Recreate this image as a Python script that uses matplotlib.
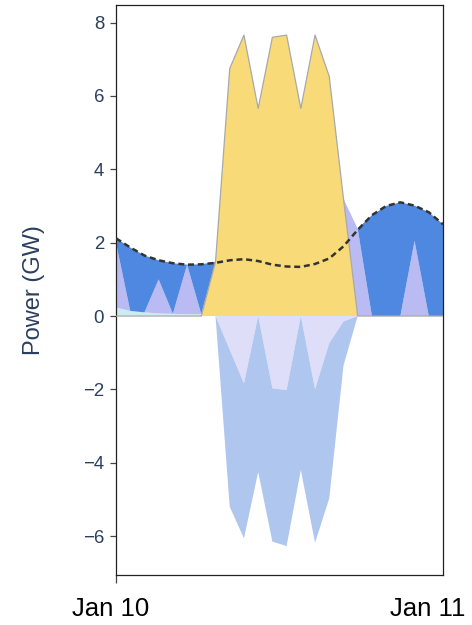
import matplotlib
matplotlib.use("Agg")
import matplotlib.pyplot as plt
from matplotlib.transforms import ScaledTranslation

# ---- data (hourly, Jan 10 00:00 .. 23:00) ----
hours = list(range(24))
solar = [0, 0, 0, 0, 0, 0, 0, 1.48, 6.75, 7.66, 5.66, 7.60, 7.66, 5.66, 7.66, 6.53, 3.2, 0, 0, 0, 0, 0, 0, 0]
base_small = [0.23, 0.14, 0.10, 0.07, 0.06, 0.05, 0.05, 0, 0, 0, 0, 0, 0, 0, 0, 0, 0, 0, 0, 0, 0, 0, 0, 0]
storage_out = [1.77, 0, 0, 0.93, 0, 1.35, 0, 0, 0, 0, 0, 0, 0, 0, 0, 0, 0, 2.38, 0, 0, 0, 2.05, 0, 0]
import_gen = [0.12, 1.73, 1.55, 0.52, 1.38, 0, 1.36, 0, 0, 0, 0, 0, 0, 0, 0, 0, 0, 0, 2.75, 3.0, 3.1, 0.96, 2.83, 2.5]
storage_in = [0, 0, 0, 0, 0, 0, 0, 0, -0.92, -1.84, 0, -1.97, -2.02, 0, -2.0, -0.74, -0.15, 0, 0, 0, 0, 0, 0, 0]
export = [0, 0, 0, 0, 0, 0, 0, 0, -4.28, -4.22, -4.25, -4.18, -4.25, -4.2, -4.18, -4.23, -1.2, 0, 0, 0, 0, 0, 0, 0]
demand = [2.12, 1.87, 1.65, 1.52, 1.44, 1.40, 1.41, 1.45, 1.52, 1.55, 1.50, 1.40, 1.35, 1.34, 1.42, 1.57,
          1.90, 2.35, 2.75, 3.0, 3.1, 3.01, 2.83, 2.5]
x_tick_labels = ["Jan 10", "Jan 11"]
y_ticks = [-6, -4, -2, 0, 2, 4, 6, 8]

# ---- style ----
plt.rcParams['font.family'] = ['Liberation Sans', 'DejaVu Sans']
label_color = '#2a3f5f'

fig = plt.figure(figsize=(4.72, 6.25), dpi=100)
ax = fig.add_axes([116 / 472, 50 / 625, 327 / 472, 570 / 625])

pos_colors = ['#F9DA78', '#CBEDF2', '#BBBBF3', '#4F88E0']
polys = ax.stackplot(hours, solar, base_small, storage_out, import_gen, colors=pos_colors, linewidth=0)
for p in polys:
    p.set_linewidth(0)

neg_colors = ['#DEDEF9', '#AFC6EE']
npolys = ax.stackplot(hours, storage_in, export, colors=neg_colors, linewidth=0)
for p in npolys:
    p.set_linewidth(0)

# solar trace outline
ax.plot(hours, solar, color='#A9A9A9', lw=0.9, zorder=3)

ax.plot(hours, demand, color='#333333', lw=1.8, ls=(0, (2.4, 1.5)), dash_capstyle='butt', zorder=5)

ax.set_xlim(0, 23)
ax.set_ylim(-7.06, 8.48)

ax.set_yticks(y_ticks)
ax.set_yticklabels([f"{v}".replace('-', '\u2212') for v in y_ticks])
ax.tick_params(axis='y', length=4.5, width=0.9, color='#444444', labelsize=13.4,
               labelcolor=label_color, pad=4)

ax.set_xticks([0, 23])
ax.set_xticklabels(x_tick_labels)
ax.tick_params(axis='x', length=5.5, width=0.9, color='#444444', labelsize=18.5,
               labelcolor='black', pad=10)
ticks = ax.xaxis.get_major_ticks()
ticks[1].tick1line.set_visible(False)
lbls = ax.get_xticklabels()
lbls[0].set_transform(lbls[0].get_transform() + ScaledTranslation(-5 / 100, 0, fig.dpi_scale_trans))
lbls[1].set_transform(lbls[1].get_transform() + ScaledTranslation(-15 / 100, 0, fig.dpi_scale_trans))

for s in ax.spines.values():
    s.set_color('#222222')
    s.set_linewidth(0.9)

ax.set_ylabel("Power (GW)", fontsize=17, color=label_color, labelpad=27)

fig.savefig("out.png", dpi=100)
